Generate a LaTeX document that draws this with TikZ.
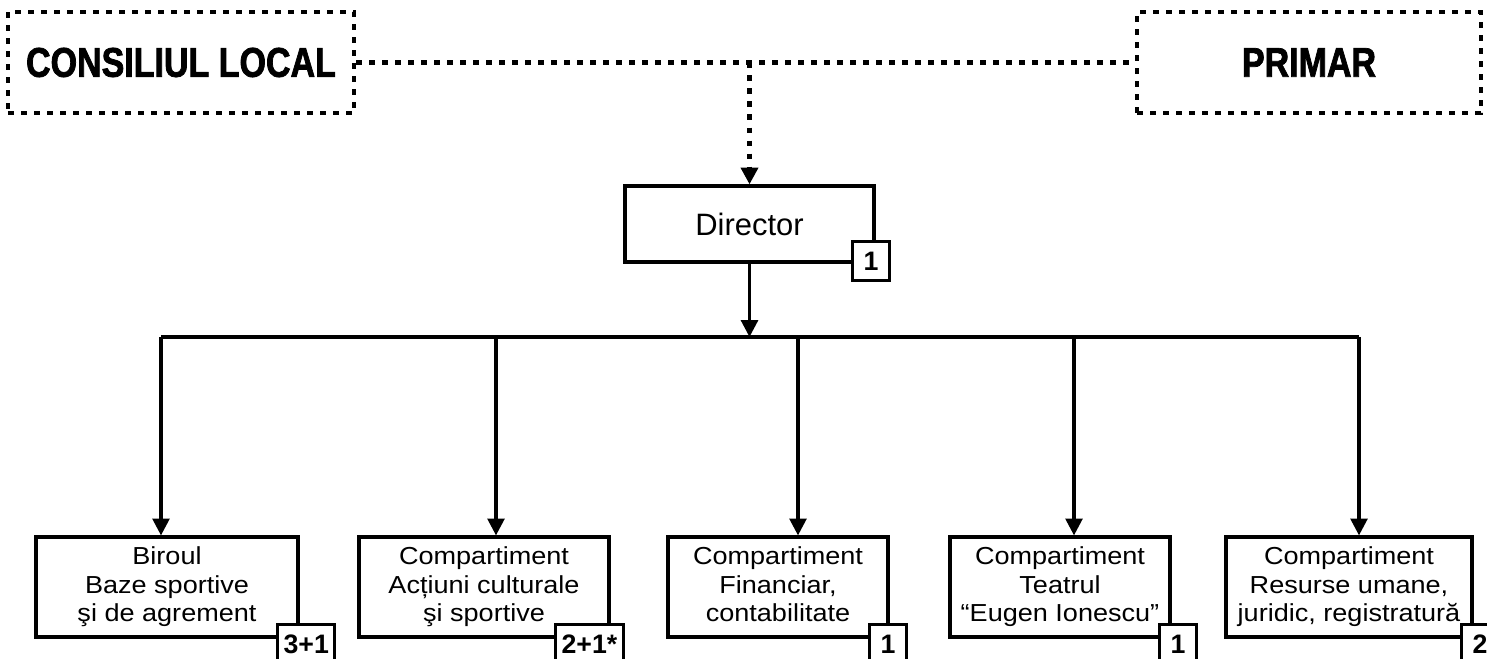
\documentclass[tikz,border=0pt]{standalone}
\usepackage{fontspec}
\setmainfont{Liberation Sans}
\newfontfamily\headfont[FakeStretch=0.82,BoldFeatures={FakeBold=1.8}]{Liberation Sans}
\newfontfamily\boxfont[FakeStretch=1.1]{Liberation Sans}
\usetikzlibrary{arrows.meta}

\begin{document}
\begin{tikzpicture}[
    line width=0.9pt,
    >={Triangle[width=4.8pt,length=4.8pt]},
    dashline/.style={dash pattern=on 1.7pt off 2pt, line width=1.2pt},
    headbox/.style={draw, dashline, minimum height=1.01cm, inner sep=0pt, font=\headfont\bfseries\fontsize{11.8}{14}\selectfont},
    unit/.style={draw, align=center, minimum height=1cm, inner sep=0pt, font=\boxfont\fontsize{7}{8.1}\selectfont, execute at end node={\rule[-1.5pt]{0pt}{0pt}}},
    staff/.style={draw, fill=white, anchor=north west, minimum height=0.39cm, minimum width=0.37cm, inner xsep=0.06cm, inner ysep=0pt, font=\bfseries\fontsize{7.6}{8}\selectfont}
]
    \useasboundingbox (0,0) rectangle (14.87,6.59);
    \node[headbox, minimum width=3.46cm] (council) at (1.81,5.965) {CONSILIUL LOCAL};
    \node[headbox, minimum width=3.44cm] (mayor) at (13.09,5.965) {PRIMAR};
    \node[draw, minimum width=2.49cm, minimum height=0.76cm, font=\fontsize{8.8}{10}\selectfont] (director) at (7.495,4.35) {Director};
    \node[staff] (sdirector) at (8.51,4.19) {1};
    \node[unit, minimum width=2.62cm] (baze) at (1.67,0.72) {Biroul\\Baze sportive\\şi de agrement};
    \node[unit, minimum width=2.50cm] (actiuni) at (4.84,0.72) {Compartiment\\Acțiuni culturale\\şi sportive};
    \node[unit, minimum width=2.20cm] (financiar) at (7.78,0.72) {Compartiment\\Financiar,\\contabilitate};
    \node[unit, minimum width=2.20cm] (teatru) at (10.60,0.72) {Compartiment\\Teatrul\\“Eugen Ionescu”};
    \node[unit, minimum width=2.46cm] (resurse) at (13.49,0.72) {Compartiment\\Resurse umane,\\juridic, registratură};
    \node[staff] (sbaze) at (2.76,0.36) {3+1};
    \node[staff] (sactiuni) at (5.54,0.36) {2+1*};
    \node[staff] (sfinanciar) at (8.68,0.36) {1};
    \node[staff] (steatru) at (11.58,0.36) {1};
    \node[staff] (sresurse) at (14.60,0.36) {2};
    \coordinate (split) at (council.east -| director.north);
    \draw[dashline] (council) -- (mayor);
    \draw[dashline, ->] (split) -- (director.north);
    \coordinate (busL) at (1.61,3.22);
    \coordinate (busR) at (13.59,3.22);
    \draw (busL) -- (busR);
    \draw[->] (director.south) -- (director.south |- busL);
    \foreach \x/\n in {1.61/baze,4.96/actiuni,7.98/financiar,10.74/teatru,13.59/resurse} {
        \coordinate (t\n) at (\x,3.22);
        \draw[->] (t\n) -- (t\n |- \n.north);
    }
\end{tikzpicture}
\end{document}
